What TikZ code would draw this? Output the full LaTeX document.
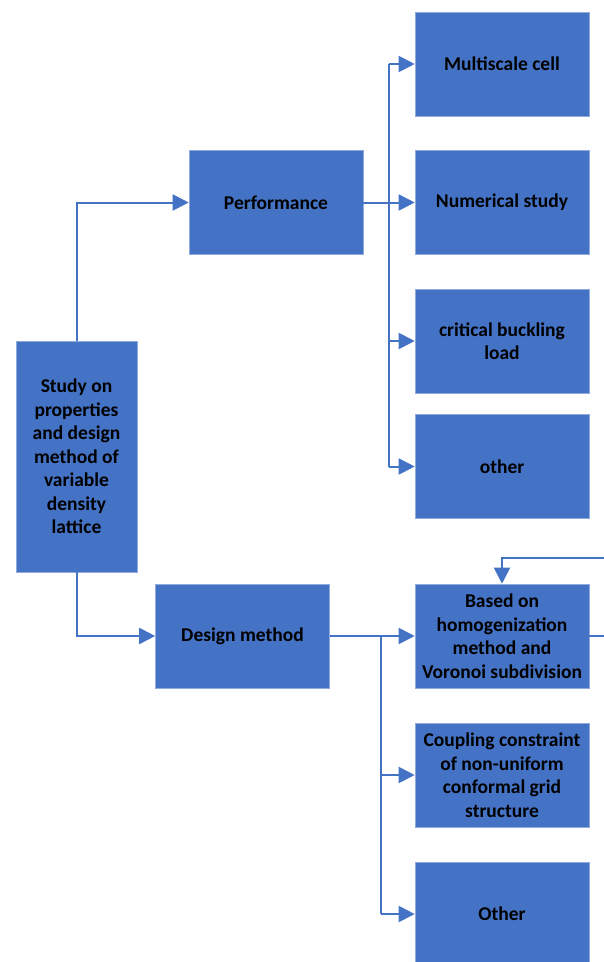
\documentclass[tikz,border=0pt]{standalone}
\usepackage{fontspec}
\setmainfont{Carlito}
\usetikzlibrary{arrows.meta}
\definecolor{boxblue}{HTML}{4472C4}
\definecolor{edgeblue}{HTML}{8FAADC}
\begin{document}
\begin{tikzpicture}[x=1pt,y=-1pt,
  blk/.style={draw=edgeblue,line width=0.6pt,fill=boxblue,minimum width=174pt,minimum height=104pt,inner sep=1pt,align=center,font=\fontsize{19.5}{23.5}\selectfont\bfseries,text=black},
  conn/.style={draw=boxblue,line width=2pt},
  arr/.style={conn,-{Triangle[length=16pt,width=16pt]}}]
\useasboundingbox (0,0) rectangle (604,962);
\clip (0,0) rectangle (604,962);
\node[blk,minimum width=121pt,minimum height=231pt] (root) at (76.5,456.5) {Study on\\properties\\and design\\method of\\variable\\density\\lattice};
\node[blk] (perf) at (276,202.5) {Performance};
\node[blk] (des) at (242.5,636) {Design method};
\node[blk] (ms) at (502,64) {Multiscale cell};
\node[blk] (num) at (502,202.5) {Numerical study};
\node[blk] (crit) at (502,341) {critical buckling\\load};
\node[blk] (oth1) at (502,466.5) {other};
\node[blk] (hom) at (502,636) {Based on\\homogenization\\method and\\Voronoi subdivision};
\node[blk] (coup) at (502,775) {Coupling constraint\\of non-uniform\\conformal grid\\structure};
\node[blk] (oth2) at (502,914) {Other};
\coordinate (bus1) at (389,202.5);
\coordinate (bus2) at (381,636);
% root to branches
\draw[arr] (root.north) |- (perf.west);
\draw[arr] (root.south) |- (des.west);
% performance group
\draw[arr] (perf.east) -- (num.west);
\draw[conn] (bus1) -- (bus1 |- ms.west);
\draw[conn] (bus1) -- (bus1 |- oth1.west);
\draw[arr] (bus1 |- ms.west) -- (ms.west);
\draw[arr] (bus1 |- crit.west) -- (crit.west);
\draw[arr] (bus1 |- oth1.west) -- (oth1.west);
% design group
\draw[arr] (des.east) -- (hom.west);
\draw[conn] (bus2) -- (bus2 |- oth2.west);
\draw[arr] (bus2 |- coup.west) -- (coup.west);
\draw[arr] (bus2 |- oth2.west) -- (oth2.west);
% feedback loop
\coordinate (lp) at (620,558);
\draw[arr] (hom.east) -| (lp) -| (hom.north);
\end{tikzpicture}
\end{document}
